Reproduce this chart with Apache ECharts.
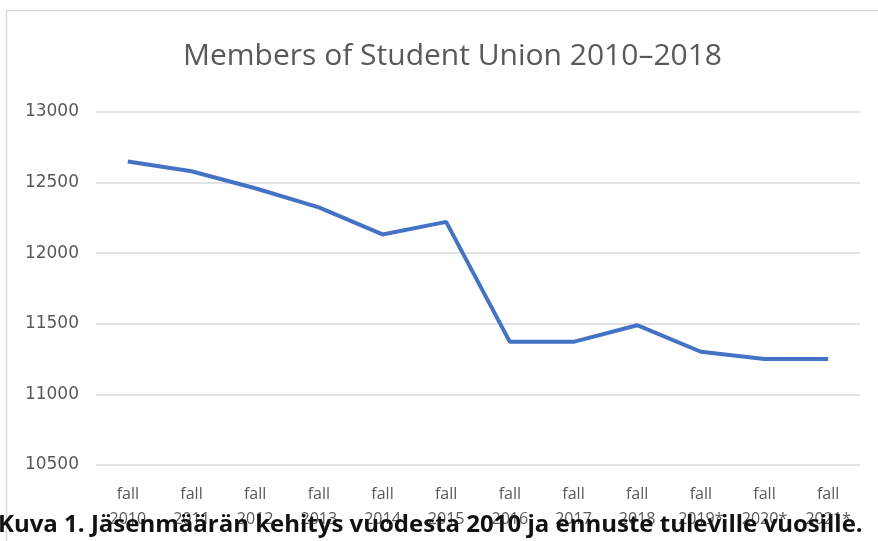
<!DOCTYPE html>
<html>
<head>
<meta charset="utf-8">
<script src="https://cdn.jsdelivr.net/npm/echarts@6/dist/echarts.min.js"></script>
<style>
  html, body { margin: 0; padding: 0; background: #fff; }
  #chart { width: 878px; height: 541px; }
</style>
</head>
<body>
<div id="chart"></div>
<script>
  // data
  const years = ['2010', '2011', '2012', '2013', '2014', '2015', '2016', '2017', '2018', '2019*', '2020*', '2021*'];
  const members = [12650, 12580, 12460, 12325, 12133, 12222, 11372, 11372, 11490, 11302, 11250, 11250];
  const yTicks = { min: 10500, max: 13000, step: 500 };

  const chartDom = document.getElementById('chart');
  const myChart = echarts.init(chartDom);

  const option = {
    animation: false,
    title: {
      text: 'Members of Student Union 2010–2018',
      left: 178,
      top: 36,
      textStyle: {
        fontFamily: 'Open Sans',
        fontWeight: 'normal',
        fontSize: 30,
        color: '#595959'
      }
    },
    grid: {
      left: 96,
      right: 18,
      top: 112,
      bottom: 76
    },
    xAxis: {
      type: 'category',
      data: years.map(y => 'fall\n' + y),
      boundaryGap: true,
      axisLine: { show: false },
      axisTick: { show: false },
      axisLabel: {
        margin: 17,
        lineHeight: 25,
        fontFamily: 'Open Sans',
        fontSize: 16,
        color: '#595959',
        interval: 0
      }
    },
    yAxis: {
      type: 'value',
      min: yTicks.min,
      max: yTicks.max,
      interval: yTicks.step,
      axisLine: { show: false },
      axisTick: { show: false },
      axisLabel: {
        margin: 17,
        fontFamily: 'DejaVu Sans',
        fontSize: 17,
        color: '#595959',
        formatter: v => String(v)
      },
      splitLine: { lineStyle: { color: '#d9d9d9', width: 1.5 } }
    },
    graphic: [
      {
        type: 'rect',
        shape: { x: 6.5, y: 10.5, width: 900, height: 600 },
        style: { fill: 'none', stroke: '#d9d9d9', lineWidth: 1.5 },
        silent: true
      },
      {
        type: 'text',
        left: -2,
        top: 513,
        z: 100,
        style: {
          text: 'Kuva 1. Jäsenmäärän kehitys vuodesta 2010 ja ennuste tuleville vuosille.',
          fontFamily: 'Open Sans',
          fontWeight: 'bold',
          fontSize: 24,
          fill: '#111'
        }
      }
    ],
    series: [
      {
        name: 'Members',
        type: 'line',
        data: members,
        symbol: 'none',
        lineStyle: { color: '#4472C4', width: 4 }
      }
    ]
  };

  myChart.setOption(option);
</script>
</body>
</html>
